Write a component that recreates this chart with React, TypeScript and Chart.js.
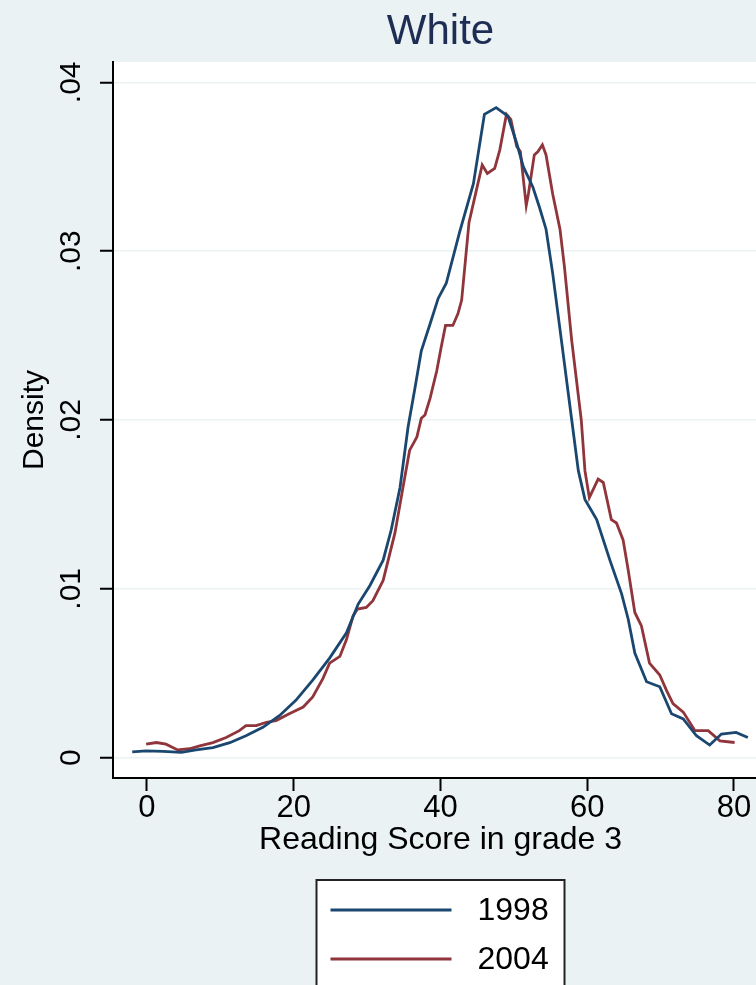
import React, { useEffect, useRef } from 'react';
import { Chart, registerables } from 'chart.js';

Chart.register(...registerables);

const chartTitle = 'White';
const xAxisTitle = 'Reading Score in grade 3';
const yAxisTitle = 'Density';
const seriesLabels = ['1998', '2004'];
const seriesColors = ['#1A476F', '#90353B'];

const xTicks = [0, 20, 40, 60, 80];
const xTickLabels = ['0', '20', '40', '60', '80'];
const yTicks = [0, 0.01, 0.02, 0.03, 0.04];
const yTickLabels = ['0', '.01', '.02', '.03', '.04'];

const score1998 = [
  -2.0, -0.1, 2.2, 4.7, 6.7, 9.0, 11.3, 13.5, 15.8, 18.1, 20.3, 22.6, 24.9, 27.2,
  28.8, 30.4, 32.2, 33.3, 34.5, 35.6, 36.5, 37.4, 38.6, 39.7, 40.8, 42.6, 44.5,
  46.0, 47.6, 49.2, 50.4, 51.3, 52.6, 53.5, 54.4, 55.3, 56.5, 57.9, 58.8, 59.7,
  61.3, 63.1, 64.7, 65.6, 66.5, 68.1, 69.9, 71.5, 73.1, 74.9, 76.7, 78.3, 80.3, 81.9,
];
const density1998 = [
  0.00034, 0.0004, 0.00038, 0.00032, 0.00046, 0.0006, 0.00089, 0.0013, 0.0018, 0.0025,
  0.0034, 0.0046, 0.0059, 0.0074, 0.0091, 0.0102, 0.0117, 0.0135, 0.016, 0.0196,
  0.0218, 0.0241, 0.0257, 0.0272, 0.0281, 0.0311, 0.034, 0.0381, 0.0385, 0.038,
  0.0364, 0.035, 0.0338, 0.0326, 0.0313, 0.0287, 0.0247, 0.02, 0.017, 0.0153,
  0.0141, 0.0117, 0.0097, 0.0082, 0.0062, 0.0045, 0.0042, 0.0026, 0.0023, 0.0013,
  0.00075, 0.0014, 0.0015, 0.0012,
];

const score2004 = [
  -0.1, 1.3, 2.6, 4.2, 5.8, 7.2, 9.0, 10.8, 12.6, 13.5, 14.9, 16.3, 17.6, 19.4, 21.3,
  22.6, 24.0, 24.9, 26.3, 27.2, 28.1, 28.7, 29.9, 30.8, 32.2, 33.8, 34.9, 35.8, 36.8,
  37.4, 37.9, 38.6, 39.5, 40.1, 40.7, 41.7, 42.4, 42.9, 43.9, 44.9, 45.7, 46.4, 47.4,
  48.1, 49.0, 49.6, 50.4, 50.9, 51.7, 52.0, 52.8, 53.3, 53.9, 54.4, 55.3, 56.3, 56.9,
  57.9, 59.2, 59.7, 60.3, 61.5, 62.2, 63.3, 64.0, 64.9, 65.6, 66.5, 67.4, 68.5, 69.9,
  70.8, 71.7, 73.1, 74.7, 76.5, 78.1, 80.1,
];
const density2004 = [
  0.0008, 0.0009, 0.0008, 0.00046, 0.00053, 0.0007, 0.00089, 0.0012, 0.0016, 0.0019,
  0.0019, 0.0021, 0.0022, 0.0026, 0.003, 0.0036, 0.0047, 0.0056, 0.006, 0.007,
  0.0084, 0.0088, 0.0089, 0.0093, 0.0105, 0.0133, 0.016, 0.0182, 0.019, 0.0201,
  0.0203, 0.0213, 0.0229, 0.0243, 0.0256, 0.0256, 0.0263, 0.0271, 0.0317, 0.0336,
  0.0351, 0.0346, 0.0349, 0.036, 0.0381, 0.0378, 0.0362, 0.0359, 0.0327, 0.0334,
  0.0357, 0.0359, 0.0363, 0.0357, 0.0334, 0.0313, 0.0291, 0.0247, 0.02, 0.017,
  0.0154, 0.0165, 0.0163, 0.0141, 0.0139, 0.0129, 0.0111, 0.0086, 0.0078, 0.0056,
  0.0049, 0.004, 0.0032, 0.0027, 0.0016, 0.0016, 0.001, 0.0009,
];

const FONT = "'Liberation Sans', Arial, Helvetica, sans-serif";
const BG = '#EAF2F3';

const decorPlugin = {
  id: 'stataDecor',
  beforeDraw(chart: any) {
    const { ctx, chartArea } = chart;
    ctx.save();
    ctx.fillStyle = BG;
    ctx.fillRect(0, 0, chart.width, chart.height);
    ctx.fillStyle = '#FFFFFF';
    ctx.fillRect(chartArea.left, chartArea.top, chartArea.right - chartArea.left, chartArea.bottom - chartArea.top);
    ctx.restore();
  },
  afterDraw(chart: any) {
    const { ctx, chartArea } = chart;
    const cx = (chartArea.left + chartArea.right) / 2;
    ctx.save();
    // title
    ctx.font = `42px ${FONT}`;
    ctx.fillStyle = '#1E2D53';
    ctx.textAlign = 'center';
    ctx.textBaseline = 'alphabetic';
    ctx.fillText(chartTitle, cx, 43.5);

    // legend
    const boxW = 248;
    const boxL = cx - boxW / 2;
    const boxT = 880;
    ctx.fillStyle = '#FFFFFF';
    ctx.fillRect(boxL, boxT, boxW, 130);
    ctx.strokeStyle = '#222222';
    ctx.lineWidth = 2;
    ctx.strokeRect(boxL, boxT, boxW, 130);
    chart.data.datasets.forEach((ds: any, i: number) => {
      const y = 910 + i * 49;
      ctx.strokeStyle = ds.borderColor;
      ctx.lineWidth = 2.8;
      ctx.beginPath();
      ctx.moveTo(boxL + 14, y);
      ctx.lineTo(boxL + 135, y);
      ctx.stroke();
      ctx.font = `32px ${FONT}`;
      ctx.fillStyle = '#000000';
      ctx.textAlign = 'left';
      ctx.textBaseline = 'middle';
      ctx.fillText(ds.label, boxL + 161, y + 1);
    });
    ctx.restore();
  },
};

export default function App() {
  const canvasRef = useRef<HTMLCanvasElement | null>(null);

  useEffect(() => {
    const canvas = canvasRef.current;
    if (!canvas) return;
    const chart = new Chart(canvas, {
      type: 'line',
      data: {
        datasets: [
          {
            label: seriesLabels[0],
            data: score1998.map((x, i) => ({ x, y: density1998[i] })),
            borderColor: seriesColors[0],
            backgroundColor: seriesColors[0],
            borderWidth: 2.8,
            pointRadius: 0,
            tension: 0,
            fill: false,
          },
          {
            label: seriesLabels[1],
            data: score2004.map((x, i) => ({ x, y: density2004[i] })),
            borderColor: seriesColors[1],
            backgroundColor: seriesColors[1],
            borderWidth: 2.8,
            pointRadius: 0,
            tension: 0,
            fill: false,
          },
        ],
      },
      options: {
        responsive: false,
        animation: false,
        events: [],
        layout: { padding: { top: 62, left: 0, right: 0, bottom: 128.5 } },
        plugins: {
          legend: { display: false },
          title: { display: false },
          tooltip: { enabled: false },
        },
        scales: {
          x: {
            type: 'linear',
            min: -4.62,
            max: 84.65,
            afterBuildTicks: (s: any) => {
              s.ticks = xTicks.map((v) => ({ value: v }));
            },
            afterFit: (s: any) => {
              s.height = 78.5;
            },
            grid: {
              drawOnChartArea: false,
              drawTicks: true,
              tickLength: 13,
              tickWidth: 2,
              tickColor: '#000000',
            },
            border: { display: true, color: '#000000', width: 2 },
            ticks: {
              autoSkip: false,
              minRotation: 0,
              maxRotation: 0,
              padding: 2,
              color: '#000000',
              font: { family: FONT, size: 31, lineHeight: 1 },
              callback: (_v: any, i: number) => xTickLabels[i],
            },
            title: {
              display: true,
              text: xAxisTitle,
              color: '#000000',
              font: { family: FONT, size: 32, lineHeight: 1 },
              padding: { top: 0, bottom: 0 },
            },
          },
          y: {
            type: 'linear',
            min: -0.0012023,
            max: 0.041202,
            afterBuildTicks: (s: any) => {
              s.ticks = yTicks.map((v) => ({ value: v }));
            },
            afterFit: (s: any) => {
              s.width = 113;
            },
            grid: {
              color: BG,
              lineWidth: 1.5,
              drawTicks: true,
              tickLength: 13,
              tickWidth: 2,
              tickColor: '#000000',
            },
            border: { display: true, color: '#000000', width: 2 },
            ticks: {
              autoSkip: false,
              minRotation: 90,
              maxRotation: 90,
              crossAlign: 'center',
              padding: 7,
              color: '#000000',
              font: { family: FONT, size: 30, lineHeight: 1 },
              callback: (_v: any, i: number) => yTickLabels[i],
            },
            title: {
              display: true,
              text: yAxisTitle,
              color: '#000000',
              font: { family: FONT, size: 30, lineHeight: 1 },
              padding: { top: 19.3, bottom: 0 },
            },
          },
        },
      } as any,
      plugins: [decorPlugin],
    });
    return () => chart.destroy();
  }, []);

  return (
    <div
      style={{
        position: 'fixed',
        left: 0,
        top: 0,
        width: 756,
        height: 985,
        overflow: 'hidden',
        background: BG,
      }}
    >
      <canvas ref={canvasRef} width={768} height={985} style={{ width: 768, height: 985, display: 'block' }} />
    </div>
  );
}
